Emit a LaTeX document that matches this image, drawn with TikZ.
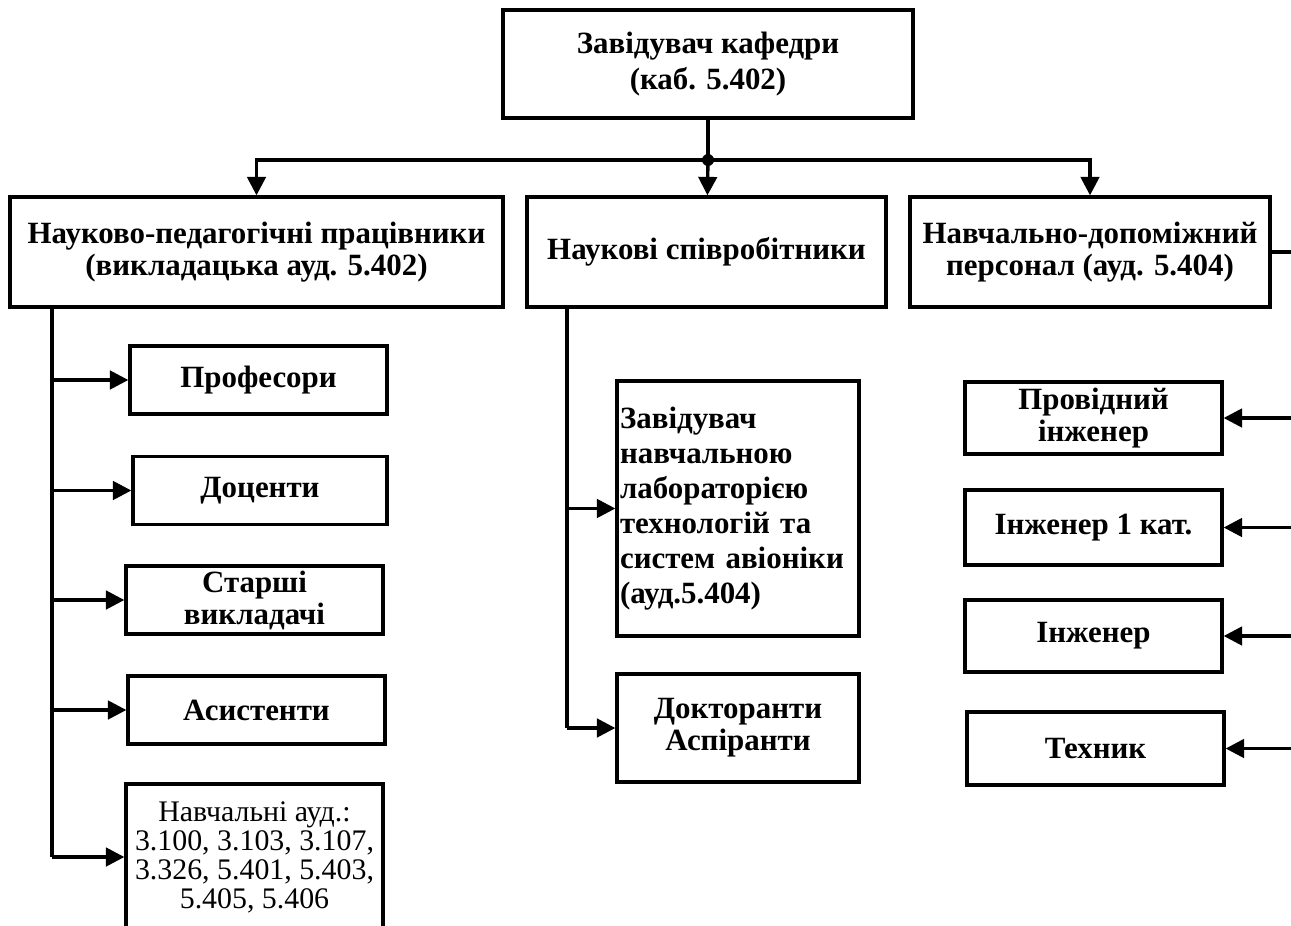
\documentclass[tikz,border=0pt]{standalone}
\usepackage{fontspec}
\setmainfont{Liberation Serif}
\usetikzlibrary{arrows.meta}

\begin{document}
\begin{tikzpicture}[x=0.02cm, y=-0.02cm, line width=1.9pt, >={Triangle[length=10.5pt,width=10.5pt]},
  main/.style = {draw, align=center, inner sep=1pt, font=\bfseries\fontsize{17.6}{18.2}\selectfont},
  small/.style = {main, minimum width=5.14cm, minimum height=1.36cm},
  side/.style = {main, minimum width=5.14cm, minimum height=1.44cm}]
\useasboundingbox (0,0) rectangle (1291,926);
\clip (0,0) rectangle (1291,926);
% top level
\node[main, minimum width=8.2cm, minimum height=2.16cm, font=\bfseries\fontsize{17.6}{20.5}\selectfont] (head) at (708,64) {Завідувач кафедри\\(каб. 5.402)};
\node[main, minimum width=9.86cm, minimum height=2.2cm] (npp) at (256.5,252) {Науково-педагогічні працівники\\(викладацька ауд. 5.402)};
\node[main, minimum width=7.18cm, minimum height=2.2cm] (ns) at (706.5,252) {Наукові співробітники};
\node[main, minimum width=7.2cm, minimum height=2.2cm] (ndp) at (1090,252) {Навчально-допоміжний\\персонал (ауд. 5.404)};
% left column
\node[small] (prof) at (258.5,380) {Професори};
\node[small, minimum width=5.08cm] (doc) at (260,490.5) {Доценти};
\node[small] (stv) at (254.5,600) {Старші\\викладачі};
\node[small] (asys) at (256.5,710) {Асистенти};
\node[small, minimum height=2.92cm, font=\fontsize{17}{16.5}\selectfont] (aud) at (254.5,857) {Навчальні ауд.:\\3.100, 3.103, 3.107,\\3.326, 5.401, 5.403,\\5.405, 5.406};
% middle column
\node[main, minimum width=4.84cm, minimum height=5.1cm, text width=4.72cm, align=left, font=\bfseries\fontsize{17.6}{20}\selectfont] (lab) at (738,508.5) {Завідувач\\навчальною\\лабораторією\\технологій та\\систем авіоніки\\(ауд.5.404)};
\node[main, minimum width=4.84cm, minimum height=2.16cm] (dokt) at (738,728) {Докторанти\\Аспіранти};
% right column
\node[side] (prov) at (1093.5,418) {Провідний\\інженер};
\node[side, minimum height=1.5cm] (ing1) at (1093.5,527.5) {Інженер 1 кат.};
\node[side] (ing) at (1093.5,636) {Інженер};
\node[side, minimum height=1.46cm] (tech) at (1095.5,748.5) {Техник};
% bus lines
\coordinate (bus) at (708,160);
\coordinate (lb) at (52,0);
\coordinate (mb) at (567,0);
\coordinate (rb) at (1300,252);
\draw (head) -- (bus);
\fill (bus) circle (0.12cm);
\draw[->] (bus) -- (ns);
\draw[->] (bus) -| (npp);
\draw[->] (bus) -| (ndp);
\draw (lb |- npp.south) -- (lb |- aud);
\foreach \n in {prof, doc, stv, asys, aud}
  \draw[->] (lb |- \n) -- (\n);
\draw (mb |- ns.south) -- (mb |- dokt);
\draw[->] (mb |- lab) -- (lab);
\draw[->] (mb |- dokt) -- (dokt);
\draw (ndp) -- (rb) -- (rb |- tech);
\foreach \n in {prov, ing1, ing, tech}
  \draw[->] (rb |- \n) -- (\n);
\end{tikzpicture}
\end{document}
